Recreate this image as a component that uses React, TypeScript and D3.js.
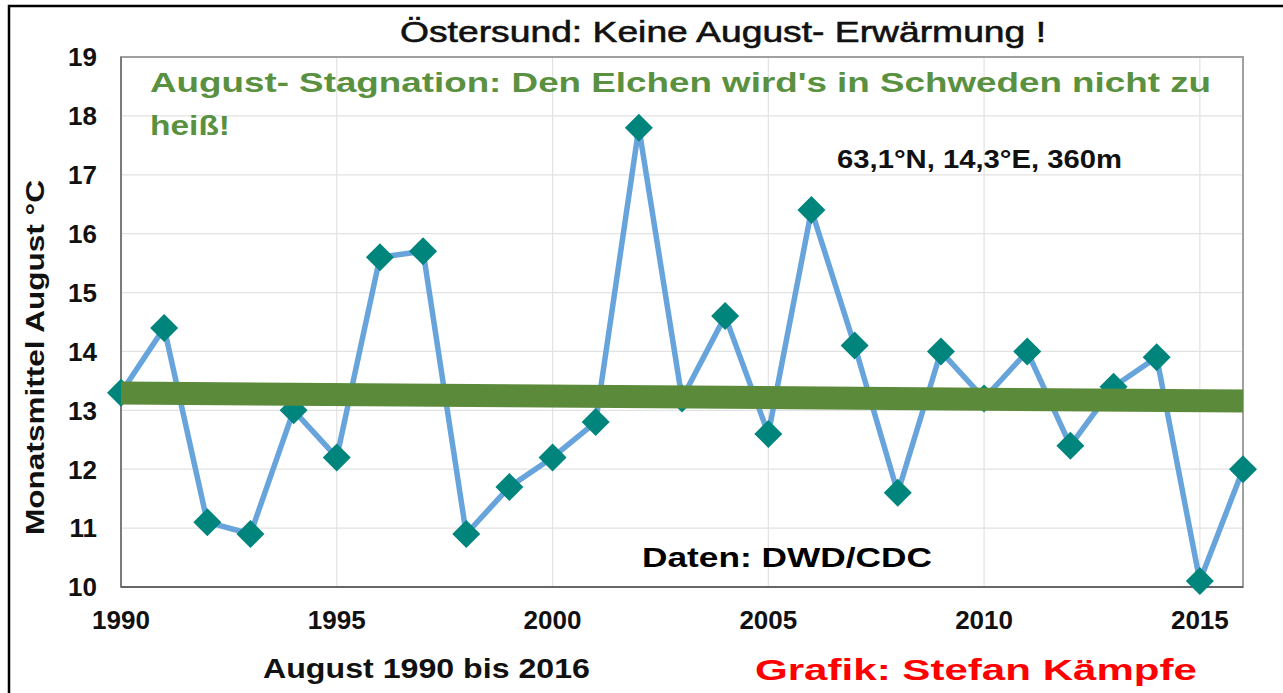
import React from "react";
import * as d3 from "d3";

const years: number[] = [
  1990, 1991, 1992, 1993, 1994, 1995, 1996, 1997, 1998, 1999, 2000, 2001, 2002,
  2003, 2004, 2005, 2006, 2007, 2008, 2009, 2010, 2011, 2012, 2013, 2014, 2015, 2016,
];
const augustMean: number[] = [
  13.3, 14.4, 11.1, 10.9, 13.0, 12.2, 15.6, 15.7, 10.9, 11.7, 12.2, 12.8, 17.8,
  13.2, 14.6, 12.6, 16.4, 14.1, 11.6, 14.0, 13.2, 14.0, 12.4, 13.4, 13.9, 10.1, 12.0,
];
const yTicks: number[] = [10, 11, 12, 13, 14, 15, 16, 17, 18, 19];
const xTicks: number[] = [1990, 1995, 2000, 2005, 2010, 2015];

const FONT = "'Liberation Sans', Arial, Helvetica, sans-serif";

export default function App() {
  const W = 1283;
  const H = 693;
  const left = 121;
  const right = 1243;
  const top = 57;
  const bottom = 587;

  const x = d3.scaleLinear().domain([1990, 2016]).range([left, right]);
  const y = d3.scaleLinear().domain([10, 19]).range([bottom, top]);

  const pts = years.map((yr, i) => [yr, augustMean[i]] as [number, number]);
  const line = d3
    .line<[number, number]>()
    .x((d) => x(d[0]))
    .y((d) => y(d[1]));

  // linear regression trend
  const mx = d3.mean(years)!;
  const my = d3.mean(augustMean)!;
  let sxy = 0;
  let sxx = 0;
  years.forEach((yr, i) => {
    sxy += (yr - mx) * (augustMean[i] - my);
    sxx += (yr - mx) * (yr - mx);
  });
  const slope = sxy / sxx;
  const trend = (yr: number) => my + slope * (yr - mx);

  const diamond = (cx: number, cy: number, r: number) =>
    `M${cx},${cy - r}L${cx + r},${cy}L${cx},${cy + r}L${cx - r},${cy}Z`;

  return (
    <svg
      width={W}
      height={H}
      style={{ position: "absolute", left: 0, top: 0, background: "#fff" }}
      fontFamily={FONT}
    >
      <rect x={0} y={0} width={W} height={H} fill="#fff" />
      {/* outer border */}
      <rect x={9} y={6} width={W + 20} height={H + 20} fill="none" stroke="#000" strokeWidth={2.5} />

      {/* gridlines */}
      {yTicks.map((t) => (
        <line key={"gy" + t} x1={left} x2={right} y1={y(t)} y2={y(t)} stroke="#e2e2e2" strokeWidth={1.2} />
      ))}
      {xTicks.filter((t) => t > 1990).map((t) => (
        <line key={"gx" + t} x1={x(t)} x2={x(t)} y1={top} y2={bottom} stroke="#e2e2e2" strokeWidth={1.2} />
      ))}

      {/* plot frame */}
      <rect x={left} y={top} width={right - left} height={bottom - top} fill="none" stroke="#a0a0a0" strokeWidth={2} />
      <line x1={left} x2={left} y1={top} y2={bottom} stroke="#777" strokeWidth={1.8} />
      <line x1={left} x2={right} y1={bottom} y2={bottom} stroke="#666" strokeWidth={1.8} />

      {/* data line */}
      <path d={line(pts) || ""} fill="none" stroke="#68a4dc" strokeWidth={5.5} strokeLinejoin="round" />
      {pts.map((d, i) => (
        <path key={"m" + i} d={diamond(x(d[0]), y(d[1]), 14)} fill="#00857d" />
      ))}

      {/* trend */}
      <line
        x1={x(1990)}
        x2={x(2016)}
        y1={y(trend(1990))}
        y2={y(trend(2016))}
        stroke="#5b8a3a"
        strokeWidth={23}
      />

      {/* y tick labels */}
      {yTicks.map((t) => (
        <text key={"yl" + t} x={97} y={y(t)} dy="0.36em" textAnchor="end" fontSize={26} fontWeight="bold" fill="#111">
          {t}
        </text>
      ))}
      {/* x tick labels */}
      {xTicks.map((t) => (
        <text key={"xl" + t} x={x(t)} y={629} textAnchor="middle" fontSize={26} fontWeight="bold" fill="#111">
          {t}
        </text>
      ))}

      {/* title */}
      <text
        x={400}
        y={42}
        fontSize={30}
        fill="#111"
        stroke="#111"
        strokeWidth={0.6}
        textLength={646}
        lengthAdjust="spacingAndGlyphs"
      >
        Östersund: Keine August- Erwärmung !
      </text>

      {/* green annotation */}
      <text x={150} y={92} fontSize={28} fontWeight="bold" fill="#5a9140" textLength={1061} lengthAdjust="spacingAndGlyphs">
        August- Stagnation: Den Elchen wird's in Schweden nicht zu
      </text>
      <text x={150} y={135} fontSize={28} fontWeight="bold" fill="#5a9140" textLength={80} lengthAdjust="spacingAndGlyphs">
        heiß!
      </text>

      <text x={837} y={168} fontSize={25} fontWeight="bold" fill="#111" textLength={285} lengthAdjust="spacingAndGlyphs">
        63,1°N, 14,3°E, 360m
      </text>
      <text x={642} y={567} fontSize={28} fontWeight="bold" fill="#000" textLength={290} lengthAdjust="spacingAndGlyphs">
        Daten: DWD/CDC
      </text>

      {/* axis titles */}
      <text
        transform="translate(44,357.5) rotate(-90)"
        textAnchor="middle"
        fontSize={26}
        fontWeight="bold"
        fill="#111"
        textLength={355}
        lengthAdjust="spacingAndGlyphs"
      >
        Monatsmittel August °C
      </text>
      <text x={263} y={678} fontSize={27} fontWeight="bold" fill="#111" textLength={327} lengthAdjust="spacingAndGlyphs">
        August 1990 bis 2016
      </text>
      <text x={755} y={680} fontSize={30} fontWeight="bold" fill="#ff0000" textLength={442} lengthAdjust="spacingAndGlyphs">
        Grafik: Stefan Kämpfe
      </text>
    </svg>
  );
}
